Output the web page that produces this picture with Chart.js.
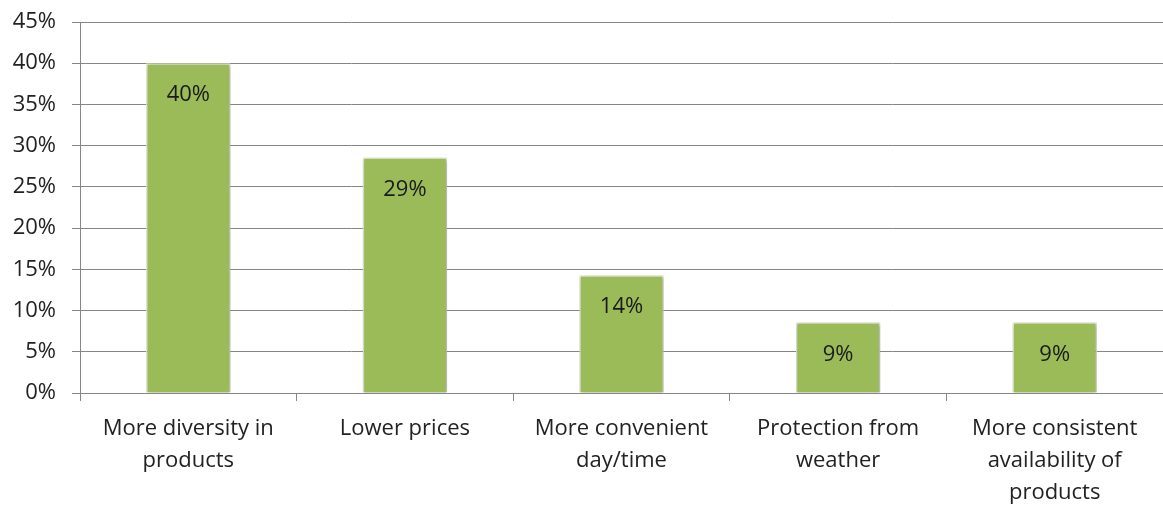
<!DOCTYPE html>
<html>
<head>
<meta charset="utf-8">
<script src="https://cdn.jsdelivr.net/npm/chart.js@4"></script>
<style>
  html, body { margin: 0; padding: 0; background: #fff; }
  #wrap { width: 1163px; height: 506px; position: relative; }
</style>
</head>
<body>
<div id="wrap"><canvas id="chart"></canvas></div>
<script>
// Reasons for shopping elsewhere - share of respondents
const categories = [
    ['More diversity in', 'products'],
    ['Lower prices'],
    ['More convenient', 'day/time'],
    ['Protection from', 'weather'],
    ['More consistent', 'availability of', 'products']
];
const shares = [40, 28.57, 14.29, 8.57, 8.57];
const shareLabels = ['40%', '29%', '14%', '9%', '9%'];
const yTicks = [0, 5, 10, 15, 20, 25, 30, 35, 40, 45];

const FONT = '"Open Sans", "Liberation Sans", sans-serif';

// sombra suave detrás de las barras
const barShadow = {
    id: 'barShadow',
    beforeDatasetsDraw(chart) {
        const c = chart.ctx;
        c.save();
        c.shadowColor = 'rgba(0,0,0,0.35)';
        c.shadowBlur = 4;
        c.shadowOffsetX = 1;
        c.shadowOffsetY = 1;
    },
    afterDatasetsDraw(chart) {
        chart.ctx.restore();
    }
};

// etiquetas de valor dentro de la barra, arriba
const valueLabels = {
    id: 'valueLabels',
    afterDatasetsDraw(chart) {
        const c = chart.ctx;
        const meta = chart.getDatasetMeta(0);
        c.save();
        c.font = '22px ' + FONT;
        c.fillStyle = '#1a1a1a';
        c.textAlign = 'center';
        c.textBaseline = 'middle';
        meta.data.forEach((bar, i) => {
            c.fillText(shareLabels[i], bar.x, bar.y + 32);
        });
        c.restore();
    }
};

new Chart(document.getElementById('chart'), {
    type: 'bar',
    data: {
        labels: categories,
        datasets: [{
            data: shares,
            backgroundColor: '#9BBB59',
            borderColor: '#E4EDD2',
            borderWidth: 1.5,
            categoryPercentage: 1,
            barPercentage: 0.39
        }]
    },
    options: {
        responsive: true,
        maintainAspectRatio: false,
        animation: false,
        layout: { padding: { top: 22, right: 0, bottom: 0, left: 0 } },
        plugins: {
            legend: { display: false },
            tooltip: { enabled: false }
        },
        scales: {
            x: {
                grid: {
                    offset: true,
                    drawOnChartArea: false,
                    drawTicks: true,
                    tickLength: 8,
                    color: '#868686'
                },
                border: { color: '#868686' },
                ticks: {
                    color: '#222',
                    font: { family: FONT, size: 22, lineHeight: 1.45 },
                    padding: 12,
                    maxRotation: 0,
                    autoSkip: false
                },
                afterFit: s => { s.height = 113; }
            },
            y: {
                min: 0,
                max: 45,
                afterBuildTicks: s => { s.ticks = yTicks.map(v => ({ value: v })); },
                grid: { color: '#868686', tickLength: 8 },
                border: { color: '#868686' },
                ticks: {
                    color: '#222',
                    font: { family: FONT, size: 22, lineHeight: 0.5 },
                    padding: 16,
                    callback: v => v + '%'
                },
                afterFit: s => { s.width = 80; }
            }
        }
    },
    plugins: [barShadow, valueLabels]
});
</script>
</body>
</html>
